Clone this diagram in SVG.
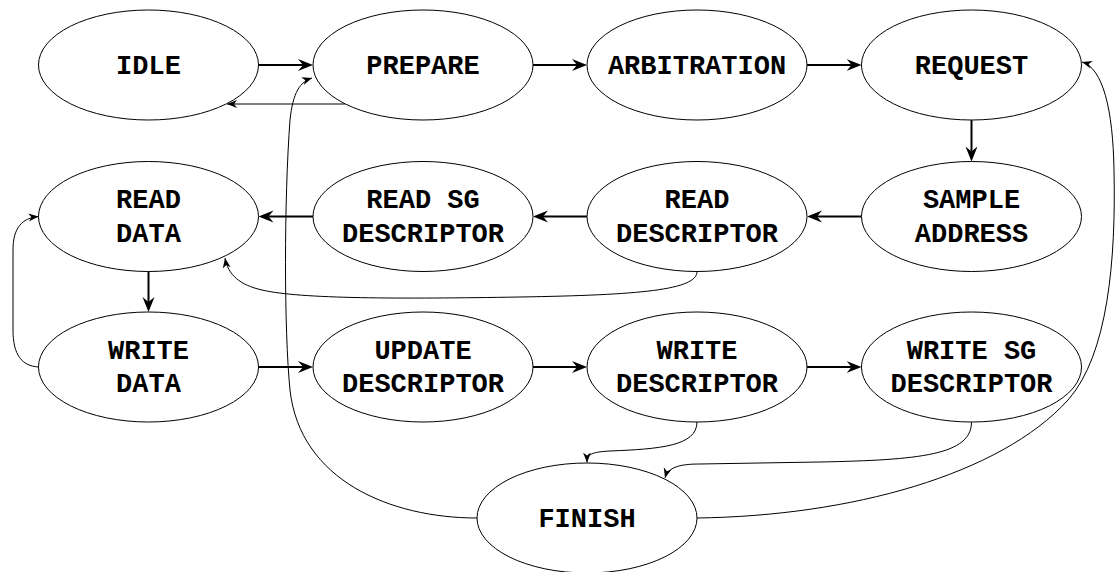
<svg xmlns="http://www.w3.org/2000/svg" width="1115" height="572" viewBox="0 0 1115 572">
  <style>
    .state ellipse { fill: #ffffff; stroke: #000000; stroke-width: 1; }
    .state text { font-family: "Liberation Mono", "DejaVu Sans Mono", monospace; font-weight: bold; font-size: 27px; text-anchor: middle; fill: #000000; }
    .edge { fill: none; stroke: #000000; }
    .thick { stroke-width: 2; marker-end: url(#arrowBig); }
    .thin { stroke-width: 1; marker-end: url(#arrowSmall); }
  </style>
  <defs>
    <marker id="arrowBig" markerUnits="userSpaceOnUse" markerWidth="16" markerHeight="13" refX="5" refY="6.5" orient="auto">
      <path d="M0,0.5 L15,6.5 L0,12.5 L5,6.5 Z" fill="#000000"/>
    </marker>
    <marker id="arrowSmall" markerUnits="userSpaceOnUse" markerWidth="11" markerHeight="9" refX="10" refY="4.5" orient="auto">
      <path d="M0,0.5 L10,4.5 L0,8.5 L3,4.5 Z" fill="#000000"/>
    </marker>
  </defs>

  <rect width="1115" height="572" fill="#ffffff"/>

  <g id="connectors">
    <!-- main flow -->
    <path class="edge thick" d="M258.5,65 H303"/>
    <path class="edge thick" d="M533,65 H577"/>
    <path class="edge thick" d="M807,65 H851.5"/>
    <path class="edge thick" d="M971.5,120 V151.5"/>
    <path class="edge thick" d="M861.5,216.5 H817"/>
    <path class="edge thick" d="M587,216.5 H543"/>
    <path class="edge thick" d="M313,216.5 H268.5"/>
    <path class="edge thick" d="M148.5,271.5 V302"/>
    <path class="edge thick" d="M258.5,367 H303"/>
    <path class="edge thick" d="M533,367 H577"/>
    <path class="edge thick" d="M807,367 H851.5"/>
    <!-- secondary transitions -->
    <path class="edge thin" d="M345,104 H227"/>
    <path class="edge thin" d="M697,271.5 C697,290 640,295 520,297 C400,299 300,299 262,290 C240,285 228,275 225,258"/>
    <path class="edge thin" d="M38.5,367 C22,366 13,355 13,330 L13,250 C13,228 22,218 38.5,216.5"/>
    <path class="edge thin" d="M697,422 C697,446 660,449 610,451 C592,452 587,454 587,462.5"/>
    <path class="edge thin" d="M971.5,422 C971.5,455 920,460 820,462 L700,464 C680,464 668,467 665,478"/>
    <path class="edge thin" d="M477,518 C390,518 300,480 290,390 C284,330 284,200 290,120 C293,92 300,82 312,78"/>
    <path class="edge thin" d="M697,518 C850,516 1000,475 1068,400 C1108,355 1116,260 1114,170 C1113,110 1103,68 1082,62"/>
  </g>

  <g id="idle" class="state">
    <ellipse cx="148.5" cy="65" rx="110" ry="55"/>
    <text x="148.5" y="73.5">IDLE</text>
  </g>
  <g id="prepare" class="state">
    <ellipse cx="423" cy="65" rx="110" ry="55"/>
    <text x="423" y="73.5">PREPARE</text>
  </g>
  <g id="arbitration" class="state">
    <ellipse cx="697" cy="65" rx="110" ry="55"/>
    <text x="697" y="73.5">ARBITRATION</text>
  </g>
  <g id="request" class="state">
    <ellipse cx="971.5" cy="65" rx="110" ry="55"/>
    <text x="971.5" y="73.5">REQUEST</text>
  </g>

  <g id="read-data" class="state">
    <ellipse cx="148.5" cy="216.5" rx="110" ry="55"/>
    <text x="148.5" y="208.3">READ</text>
    <text x="148.5" y="241.7">DATA</text>
  </g>
  <g id="read-sg-descriptor" class="state">
    <ellipse cx="423" cy="216.5" rx="110" ry="55"/>
    <text x="423" y="208.3">READ SG</text>
    <text x="423" y="241.7">DESCRIPTOR</text>
  </g>
  <g id="read-descriptor" class="state">
    <ellipse cx="697" cy="216.5" rx="110" ry="55"/>
    <text x="697" y="208.3">READ</text>
    <text x="697" y="241.7">DESCRIPTOR</text>
  </g>
  <g id="sample-address" class="state">
    <ellipse cx="971.5" cy="216.5" rx="110" ry="55"/>
    <text x="971.5" y="208.3">SAMPLE</text>
    <text x="971.5" y="241.7">ADDRESS</text>
  </g>

  <g id="write-data" class="state">
    <ellipse cx="148.5" cy="367" rx="110" ry="55"/>
    <text x="148.5" y="359">WRITE</text>
    <text x="148.5" y="392.4">DATA</text>
  </g>
  <g id="update-descriptor" class="state">
    <ellipse cx="423" cy="367" rx="110" ry="55"/>
    <text x="423" y="359">UPDATE</text>
    <text x="423" y="392.4">DESCRIPTOR</text>
  </g>
  <g id="write-descriptor" class="state">
    <ellipse cx="697" cy="367" rx="110" ry="55"/>
    <text x="697" y="359">WRITE</text>
    <text x="697" y="392.4">DESCRIPTOR</text>
  </g>
  <g id="write-sg-descriptor" class="state">
    <ellipse cx="971.5" cy="367" rx="110" ry="55"/>
    <text x="971.5" y="359">WRITE SG</text>
    <text x="971.5" y="392.4">DESCRIPTOR</text>
  </g>

  <g id="finish" class="state">
    <ellipse cx="587" cy="518" rx="110" ry="55"/>
    <text x="587" y="526.5">FINISH</text>
  </g>
</svg>
